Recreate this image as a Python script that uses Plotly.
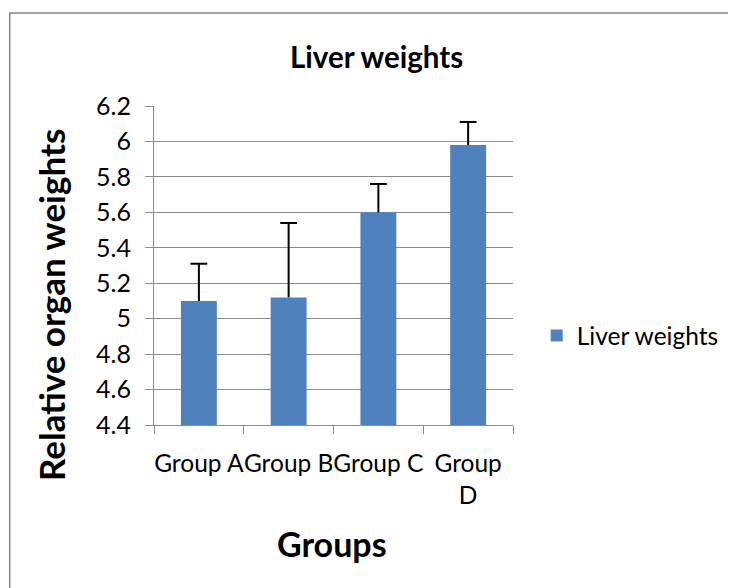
import plotly.graph_objects as go

categories = ["Group A", "Group B", "Group C", "Group D"]
tick_labels = ["Group A", "Group B", "Group C", "Group<br>D"]
values = [5.10, 5.12, 5.60, 5.98]
errors = [0.21, 0.42, 0.16, 0.13]
y_ticks = [4.4, 4.6, 4.8, 5.0, 5.2, 5.4, 5.6, 5.8, 6.0, 6.2]
y_tick_text = ["4.4", "4.6", "4.8", "5", "5.2", "5.4", "5.6", "5.8", "6", "6.2"]

FONT = "Lato"
BLUE = "#4F81BD"
GRID = "#8C8C8C"

fig = go.Figure()
fig.add_trace(go.Bar(
    x=categories, y=values, name="Liver weights",
    marker=dict(color=BLUE, line=dict(width=0)),
    error_y=dict(type="data", symmetric=False, array=errors,
                 arrayminus=[0] * len(errors), width=0, thickness=2, color="black"),
))
fig.add_trace(go.Scatter(
    x=categories, y=[v + e for v, e in zip(values, errors)],
    mode="markers", showlegend=False, hoverinfo="skip",
    marker=dict(symbol="line-ew", size=12, line=dict(width=2, color="black")),
))

fig.update_layout(
    width=728, height=580,
    margin=dict(l=146, r=220, t=98, b=163),
    paper_bgcolor="white", plot_bgcolor="white",
    font=dict(family=FONT, size=25, color="black"),
    bargap=0.6,
    showlegend=True,
    legend=dict(x=1.066, y=0.28, xanchor="left", yanchor="middle",
                font=dict(size=24.5, family=FONT), bgcolor="rgba(0,0,0,0)"),
    xaxis=dict(
        type="category", tickmode="array", tickvals=categories, ticktext=tick_labels,
        tickson="boundaries", ticks="outside", ticklen=8, tickcolor=GRID, tickwidth=1,
        showline=True, linecolor=GRID, linewidth=1, showgrid=False, tickangle=0,
        tickfont=dict(size=24.5, family=FONT), ticklabelstandoff=17,
    ),
    yaxis=dict(
        range=[4.4, 6.2], tickmode="array", tickvals=y_ticks, ticktext=y_tick_text,
        ticks="outside", ticklen=8, tickcolor=GRID, tickwidth=1,
        showline=True, linecolor=GRID, linewidth=1,
        showgrid=True, gridcolor=GRID, gridwidth=1, zeroline=False,
        tickfont=dict(size=25, family=FONT), ticklabelstandoff=9,
    ),
    shapes=[dict(type="rect", xref="paper", yref="paper",
                 x0=-0.4019, x1=1.8, y0=-0.8, y1=1.2915,
                 line=dict(color="#868686", width=1.5), layer="below")],
    annotations=[
        dict(text="<b>Liver weights</b>", xref="paper", yref="paper", x=0.619, y=1.154,
             showarrow=False, font=dict(size=29.5, family=FONT), xanchor="center", yanchor="middle"),
        dict(text="<b>Groups</b>", xref="paper", yref="paper", x=0.497, y=-0.37,
             showarrow=False, font=dict(size=34, family=FONT), xanchor="center", yanchor="middle"),
        dict(text="<b>Relative organ weights</b>", xref="paper", yref="paper", x=-0.287, y=0.376,
             showarrow=False, textangle=-90, font=dict(size=35, family=FONT),
             xanchor="center", yanchor="middle"),
    ],
)

fig.write_html("out.html")
